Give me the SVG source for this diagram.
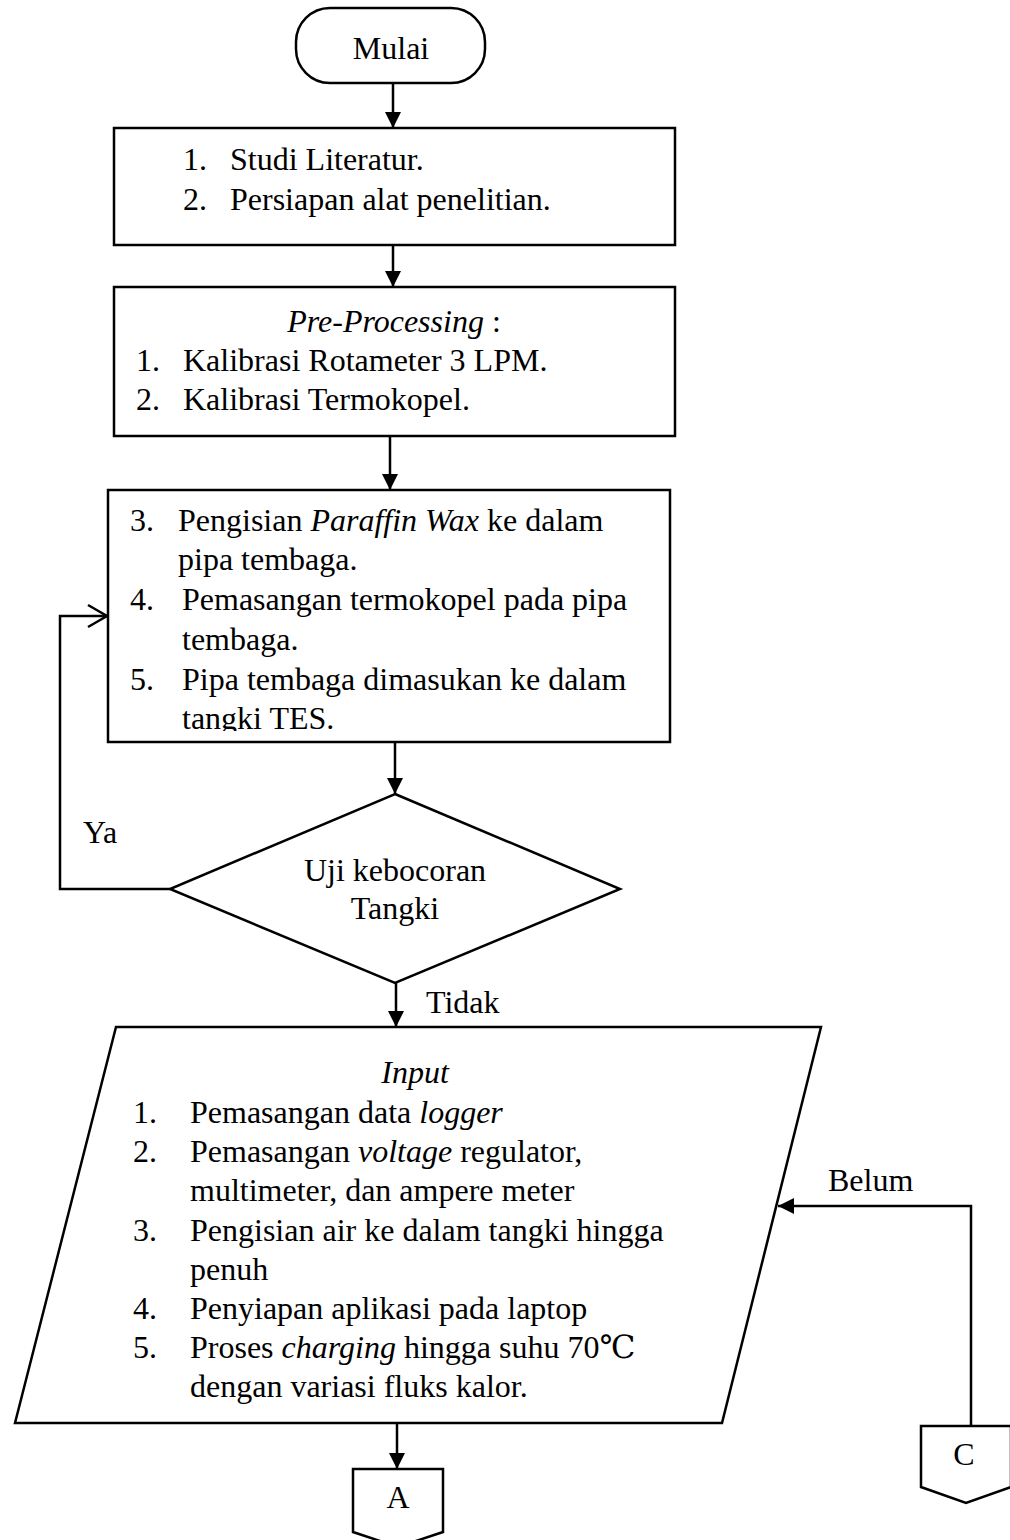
<svg xmlns="http://www.w3.org/2000/svg" width="1010" height="1540" viewBox="0 0 1010 1540">
<style>
.s{fill:#fff;stroke:#000;stroke-width:2.5}
.c{fill:none;stroke:#000;stroke-width:2.5}
text{font-family:"Liberation Serif","Times New Roman","DejaVu Serif",serif;font-size:32px;fill:#000}
.m{text-anchor:middle}
.i{font-style:italic}
</style>
<defs>
<marker id="ah" markerUnits="userSpaceOnUse" markerWidth="16" markerHeight="16" viewBox="0 0 15 15" refX="15" refY="7.5" orient="auto">
<path d="M0,0 L15,7.5 L0,15 z" fill="#000"/>
</marker>
<marker id="oh" markerUnits="userSpaceOnUse" markerWidth="24" markerHeight="26" viewBox="0 0 24 26" refX="20" refY="13" orient="auto">
<path d="M1,2 L20,13 L1,24" fill="none" stroke="#000" stroke-width="2.5"/>
</marker>
<clipPath id="clip3"><rect x="108" y="490" width="562" height="241"/></clipPath>
</defs>
<rect width="1010" height="1540" fill="#fff"/>
<g id="connectors">
<path class="c" d="M393,83 V128" marker-end="url(#ah)"/>
<path class="c" d="M393,245 V287" marker-end="url(#ah)"/>
<path class="c" d="M390,436 V490" marker-end="url(#ah)"/>
<path class="c" d="M395,742 V794" marker-end="url(#ah)"/>
<path class="c" d="M170,889 H60 V616 H107" marker-end="url(#oh)"/>
<path class="c" d="M396,983 V1027" marker-end="url(#ah)"/>
<path class="c" d="M397,1423 V1469" marker-end="url(#ah)"/>
<path class="c" d="M971,1426 V1206 H778" marker-end="url(#ah)"/>
<text x="83" y="843">Ya</text>
<text x="426" y="1013">Tidak</text>
<text x="828" y="1191">Belum</text>
</g>
<g id="mulai">
<rect class="s" x="296" y="8" width="189" height="75" rx="34" ry="34"/>
<text class="m" x="391" y="59">Mulai</text>
</g>
<g id="box1">
<rect class="s" x="114" y="128" width="561" height="117"/>
<text x="183" y="170">1.</text><text x="230" y="170">Studi Literatur.</text>
<text x="183" y="210">2.</text><text x="230" y="210">Persiapan alat penelitian.</text>
</g>
<g id="box2">
<rect class="s" x="114" y="287" width="561" height="149"/>
<text class="m" x="394" y="332"><tspan class="i">Pre-Processing</tspan> :</text>
<text x="136" y="371">1.</text><text x="183" y="371">Kalibrasi Rotameter 3 LPM.</text>
<text x="136" y="410">2.</text><text x="183" y="410">Kalibrasi Termokopel.</text>
</g>
<g id="box3">
<rect class="s" x="108" y="490" width="562" height="252"/>
<g clip-path="url(#clip3)">
<text x="130" y="531">3.</text><text x="178" y="531">Pengisian <tspan class="i">Paraffin Wax</tspan> ke dalam</text>
<text x="178" y="570">pipa tembaga.</text>
<text x="130" y="610">4.</text><text x="182" y="610">Pemasangan termokopel pada pipa</text>
<text x="182" y="650">tembaga.</text>
<text x="130" y="690">5.</text><text x="182" y="690">Pipa tembaga dimasukan ke dalam</text>
<text x="182" y="729">tangki TES.</text>
</g>
</g>
<g id="decision">
<polygon class="s" points="395,794 620,889 395,983 170,889"/>
<text class="m" x="395" y="881">Uji kebocoran</text>
<text class="m" x="395" y="919">Tangki</text>
</g>
<g id="input">
<polygon class="s" points="116,1027 821,1027 722,1423 15,1423"/>
<text class="m i" x="415" y="1083">Input</text>
<text x="133" y="1123">1.</text><text x="190" y="1123">Pemasangan data <tspan class="i">logger</tspan></text>
<text x="133" y="1162">2.</text><text x="190" y="1162">Pemasangan <tspan class="i">voltage</tspan> regulator,</text>
<text x="190" y="1201">multimeter, dan ampere meter</text>
<text x="133" y="1241">3.</text><text x="190" y="1241">Pengisian air ke dalam tangki hingga</text>
<text x="190" y="1280">penuh</text>
<text x="133" y="1319">4.</text><text x="190" y="1319">Penyiapan aplikasi pada laptop</text>
<text x="133" y="1358">5.</text><text x="190" y="1358">Proses <tspan class="i">charging</tspan> hingga suhu 70℃</text>
<text x="190" y="1397">dengan variasi fluks kalor.</text>
</g>
<g id="connA">
<polygon class="s" points="353,1469 443,1469 443,1532 398,1547 353,1532"/>
<text class="m" x="398" y="1508">A</text>
</g>
<g id="connC">
<polygon class="s" points="921,1426 1011,1426 1011,1487 966,1503 921,1487"/>
<text class="m" x="964" y="1465">C</text>
</g>
</svg>
